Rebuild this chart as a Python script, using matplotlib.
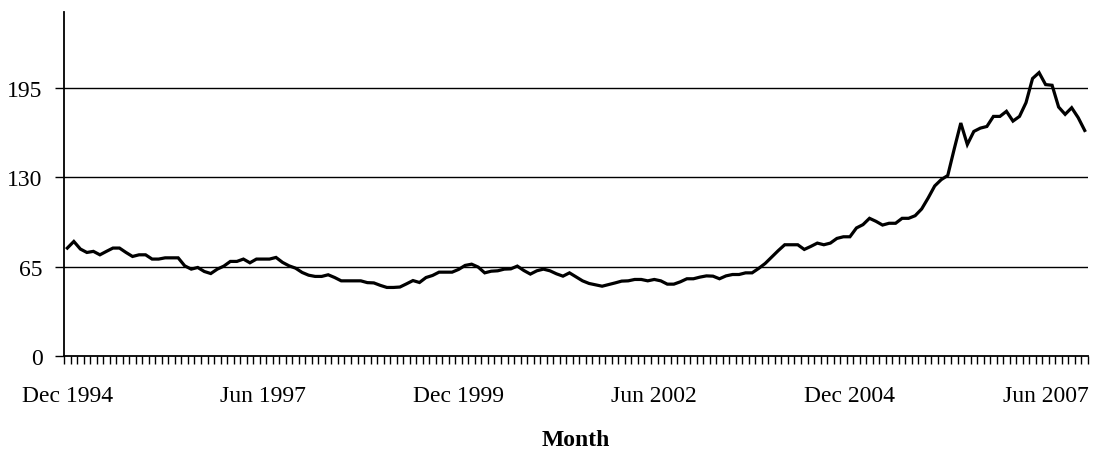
import numpy as np
import pandas as pd
import matplotlib
matplotlib.use('Agg')
import matplotlib.pyplot as plt

# monthly index values, Dec 1994 .. Dec 2007
values = [78.6, 83.4, 77.9, 75.4, 76.2, 73.7, 76.2, 78.6, 78.6, 75.4,
          72.5, 73.7, 73.7, 70.6, 70.6, 71.5, 71.5, 71.5, 65.7, 63.3,
          64.5, 61.6, 60.1, 63.3, 65.5, 68.9, 68.9, 70.6, 67.9, 70.6,
          70.6, 70.6, 71.8, 68.2, 65.7, 64.0, 60.9, 58.9, 58.0, 58.0,
          59.2, 57.2, 54.8, 54.8, 54.8, 54.8, 53.5, 53.3, 51.5, 50.0,
          50.0, 50.3, 52.6, 55.0, 53.6, 57.2, 58.7, 61.1, 61.1, 61.1,
          63.1, 66.0, 66.9, 64.8, 60.6, 61.8, 62.1, 63.3, 63.5, 65.5,
          62.3, 59.7, 62.1, 63.3, 62.1, 59.9, 58.2, 60.6, 57.7, 54.8,
          52.9, 51.9, 50.9, 52.1, 53.3, 54.6, 54.8, 55.8, 55.8, 54.8,
          55.8, 54.8, 52.4, 52.4, 54.1, 56.3, 56.3, 57.5, 58.4, 58.2,
          56.3, 58.4, 59.4, 59.4, 60.6, 60.6, 63.8, 67.4, 72.0, 76.7,
          81.0, 81.0, 81.0, 77.6, 79.8, 82.2, 81.0, 82.2, 85.6, 86.8,
          86.8, 93.2, 95.6, 100.2, 98.0, 95.3, 96.6, 96.6, 100.2, 100.2,
          102.1, 107.0, 115.0, 123.7, 128.3, 131.3, 150.7, 169.4, 153.8, 163.3,
          165.7, 166.9, 174.2, 174.2, 177.9, 170.8, 174.2, 184.2, 201.7, 206.0,
          197.3, 196.8, 181.0, 175.7, 180.5, 173.3, 164.0]

months = pd.date_range('1994-12-01', periods=len(values), freq='MS')
label_months = ['Dec 1994', 'Jun 1997', 'Dec 1999', 'Jun 2002', 'Dec 2004', 'Jun 2007']
yticks = [0, 65, 130, 195]

plt.rcParams['font.family'] = 'Liberation Serif'
plt.rcParams['font.size'] = 17

fig = plt.figure(figsize=(10.93, 4.52), dpi=100)
ax = fig.add_axes([0.0586, 0.2095, 0.9368, 0.7617])

x = np.arange(len(values))
ax.plot(x, values, color='k', lw=2.3, solid_joinstyle='miter', zorder=3)

ax.set_xlim(-0.5, len(values) - 0.5)
ax.set_ylim(0, 250)

# gridlines
for yv in yticks[1:]:
    ax.axhline(yv, color='k', lw=1.0, zorder=1)

ax.set_yticks(yticks)
ax.tick_params(axis='y', direction='out', length=6.5, width=1.0, pad=9)

# month tick marks between categories, labels every 30 months
ax.set_xticks(np.arange(-0.5, len(values) + 0.5, 1.0))
ax.set_xticklabels([])
ax.tick_params(axis='x', which='major', direction='out', length=5.5, width=1.0)
lab_pos = [list(months.strftime('%b %Y')).index(m) for m in label_months]
ax.set_xticks(lab_pos, minor=True)
ax.set_xticklabels(label_months, minor=True)
ax.tick_params(axis='x', which='minor', length=0, pad=21)

ax.spines['top'].set_visible(False)
ax.spines['right'].set_visible(False)
ax.spines['left'].set_linewidth(1.3)
ax.spines['bottom'].set_linewidth(1.3)

ax.set_xlabel('Month', fontweight='bold', labelpad=16)

plt.savefig('out.png', dpi=100)
plt.close()
